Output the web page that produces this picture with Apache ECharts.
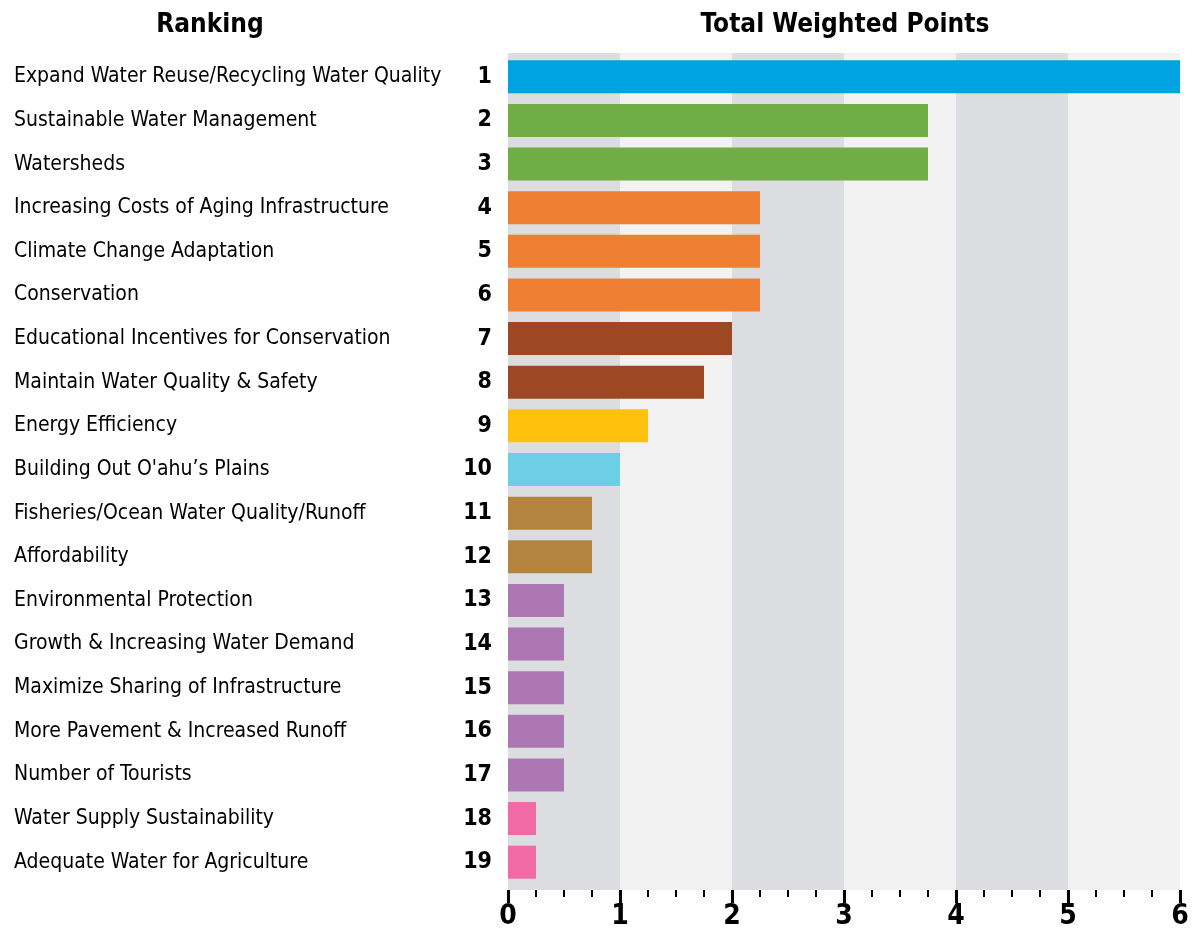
<!DOCTYPE html>
<html><head><meta charset="utf-8">
<script src="https://cdn.jsdelivr.net/npm/echarts@6/dist/echarts.min.js"></script>
<style>html,body{margin:0;padding:0;background:#fff}#c{width:1194px;height:932px}</style>
</head><body><div id="c"></div>
<script>
const categories = [
  'Expand Water Reuse/Recycling Water Quality',
  'Sustainable Water Management',
  'Watersheds',
  'Increasing Costs of Aging Infrastructure',
  'Climate Change Adaptation',
  'Conservation',
  'Educational Incentives for Conservation',
  'Maintain Water Quality & Safety',
  'Energy Efficiency',
  'Building Out O\'ahu\u2019s Plains',
  'Fisheries/Ocean Water Quality/Runoff',
  'Affordability',
  'Environmental Protection',
  'Growth & Increasing Water Demand',
  'Maximize Sharing of Infrastructure',
  'More Pavement & Increased Runoff',
  'Number of Tourists',
  'Water Supply Sustainability',
  'Adequate Water for Agriculture'
];
const ranks = ['1','2','3','4','5','6','7','8','9','10','11','12','13','14','15','16','17','18','19'];
const values = [6, 3.75, 3.75, 2.25, 2.25, 2.25, 2, 1.75, 1.25, 1, 0.75, 0.75, 0.5, 0.5, 0.5, 0.5, 0.5, 0.25, 0.25];
const groups = [0, 1, 1, 2, 2, 2, 3, 3, 4, 5, 6, 6, 7, 7, 7, 7, 7, 8, 8];
const xTickLabels = ['0','1','2','3','4','5','6'];

const palette = ['#00a3e2', '#70ad47', '#ee7f33', '#9d4822', '#fec10d', '#6ccfe6', '#b5843f', '#ad77b3', '#f06aa5'];
const FONT = '"DejaVu Sans Condensed", "Liberation Sans Narrow", sans-serif';

const chart = echarts.init(document.getElementById('c'), null, {renderer: 'canvas'});
const option = {
  animation: false,
  backgroundColor: '#ffffff',
  graphic: [
    {type: 'text', x: 210, y: 25, style: {text: 'Ranking', align: 'center', verticalAlign: 'middle', fontFamily: FONT, fontWeight: 'bold', fontSize: 26, fill: '#000'}},
    {type: 'text', x: 845, y: 25, style: {text: 'Total Weighted Points', align: 'center', verticalAlign: 'middle', fontFamily: FONT, fontWeight: 'bold', fontSize: 26, fill: '#000'}}
  ],
  grid: [
    {left: 508, right: 14, top: 53, bottom: 42},
    {left: 508, right: 14, top: 55, height: 829}
  ],
  xAxis: [
    {
      gridIndex: 0, type: 'value', min: 0, max: 6, interval: 1,
      axisLine: {show: false},
      axisTick: {show: true, length: 13, lineStyle: {color: '#000', width: 3}},
      minorTick: {show: true, splitNumber: 4, length: 7, lineStyle: {color: '#000', width: 2}},
      splitLine: {show: false},
      splitArea: {show: true, areaStyle: {color: ['#dcdde0', '#f2f2f2']}},
      axisLabel: {
        margin: 13, color: '#000', fontFamily: FONT, fontWeight: 'bold', fontSize: 28,
        formatter: (v) => xTickLabels[Math.round(v)]
      }
    },
    {gridIndex: 1, type: 'value', min: 0, max: 6, show: false}
  ],
  yAxis: [
    {gridIndex: 0, type: 'value', show: false},
    {
      gridIndex: 1, type: 'category', data: categories, inverse: true,
      axisLine: {show: false}, axisTick: {show: false},
      axisLabel: {
        margin: 16,
        formatter: (val, idx) => '{n|' + val + '}{r|' + ranks[idx] + '}',
        rich: {
          n: {width: 440, align: 'left', fontFamily: FONT, fontSize: 21, color: '#000'},
          r: {width: 38, align: 'right', fontFamily: FONT, fontWeight: 'bold', fontSize: 23, color: '#000'}
        }
      }
    }
  ],
  series: [{
    type: 'bar', xAxisIndex: 1, yAxisIndex: 1, barWidth: 33,
    data: values.map((v, i) => ({value: v, itemStyle: {color: palette[groups[i]]}}))
  }]
};
chart.setOption(option);
</script>
</body></html>
